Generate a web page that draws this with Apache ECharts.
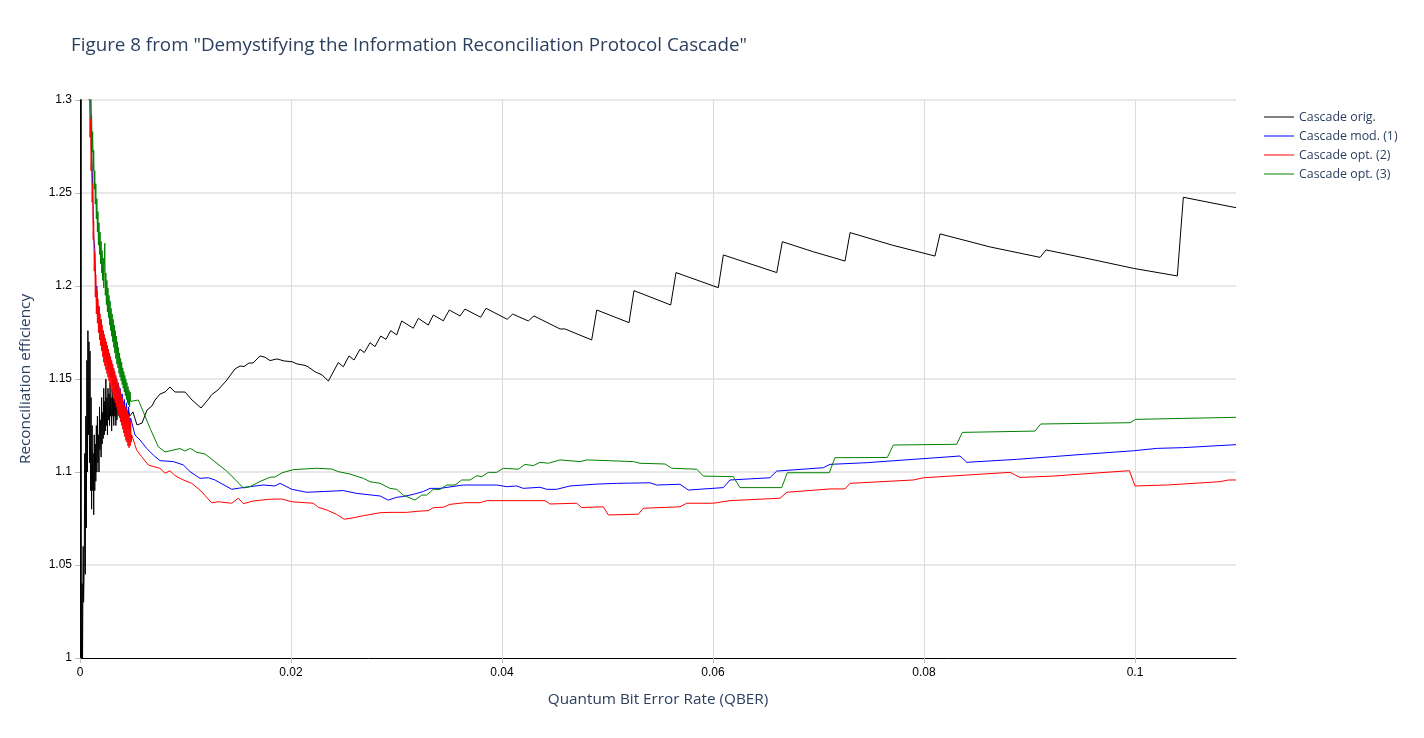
<!DOCTYPE html>
<html>
<head>
<meta charset="utf-8">
<script src="https://cdn.jsdelivr.net/npm/echarts@6/dist/echarts.min.js"></script>
<style>html,body{margin:0;padding:0;background:#fff;}#chart{width:1424px;height:738px;}</style>
</head>
<body>
<div id="chart"></div>
<script>
// ---- Data ----
const seriesNames = ["Cascade orig.", "Cascade mod. (1)", "Cascade opt. (2)", "Cascade opt. (3)"];
const xTicks = [0, 0.02, 0.04, 0.06, 0.08, 0.1];
const yTicks = [1, 1.05, 1.1, 1.15, 1.2, 1.25, 1.3];

// Cascade orig. (black)
const origX = [0.00005,0.0001,0.00013,0.0002,0.00024,0.0003,0.00034,0.0004,0.00045,0.0005,0.00055,0.0006,0.00065,0.0007,0.00075,0.0008,0.00085,0.0009,0.00095,0.001,0.00105,0.0011,0.00115,0.0012,0.00125,0.0013,0.00135,0.0014,0.00145,0.0015,0.00155,0.0016,0.00165,0.0017,0.00175,0.0018,0.00185,0.0019,0.00195,0.002,0.00205,0.0021,0.00215,0.0022,0.00225,0.0023,0.00235,0.0024,0.00245,0.0025,0.00255,0.0026,0.00265,0.0027,0.00275,0.0028,0.00285,0.0029,0.00295,0.003,0.00305,0.0031,0.00315,0.0032,0.00325,0.0033,0.00335,0.0034,0.00345,0.0035,0.0036,0.0037,0.0038,0.0039,0.004,0.0041,0.0042,0.0043,0.0044,0.0045,0.0046,0.0047,
  0.00502,0.0054,0.00588,0.00635,0.00682,0.00711,0.00758,0.00806,0.00853,0.009,0.00995,0.01062,0.01147,0.01204,0.01251,0.01308,0.01384,0.01469,0.01517,0.01555,0.01602,0.0164,0.01706,0.01754,0.01801,0.01867,0.01934,0.02009,0.02057,0.02133,0.02161,0.02227,0.02294,0.02354,0.02448,0.02496,0.0255,0.02597,0.02654,0.02695,0.02749,0.02796,0.0285,0.029,0.02945,0.03002,0.03049,0.03159,0.03207,0.03301,0.03349,0.03444,0.035,0.03602,0.03649,0.03798,0.03848,0.0405,0.04101,0.04249,0.04303,0.0455,0.04597,0.0485,0.04898,0.05204,0.05251,0.05599,0.05649,0.0605,0.06098,0.06604,0.06657,0.06951,0.07109,0.07251,0.07299,0.07697,0.08104,0.08152,0.08626,0.091,0.09156,0.09573,0.09984,0.10401,0.10458,0.10957];
const origY = [1.0,1.42,1.0,1.04,1.0,1.06,1.03,1.05,1.11,1.045,1.13,1.07,1.16,1.10,1.176,1.12,1.17,1.105,1.165,1.09,1.14,1.08,1.125,1.09,1.11,1.077,1.12,1.09,1.115,1.095,1.125,1.10,1.13,1.105,1.12,1.10,1.135,1.112,1.128,1.108,1.14,1.115,1.132,1.118,1.145,1.12,1.138,1.122,1.15,1.125,1.14,1.12,1.145,1.128,1.142,1.125,1.148,1.13,1.14,1.122,1.145,1.13,1.14,1.125,1.142,1.13,1.138,1.125,1.14,1.128,1.14,1.13,1.137,1.127,1.136,1.128,1.135,1.126,1.134,1.128,1.133,1.13,
  1.1323,1.1253,1.1263,1.1333,1.1355,1.1387,1.1419,1.143,1.1457,1.143,1.143,1.1387,1.1344,1.1382,1.1417,1.1441,1.1489,1.1554,1.157,1.1567,1.1586,1.1586,1.1624,1.1617,1.1599,1.1608,1.1597,1.1593,1.1581,1.1573,1.1566,1.1539,1.1522,1.1489,1.1588,1.1566,1.1624,1.1602,1.166,1.1642,1.1695,1.1674,1.1731,1.1713,1.176,1.1737,1.1812,1.1773,1.1826,1.179,1.1844,1.1813,1.1871,1.1839,1.1876,1.1832,1.188,1.1821,1.1849,1.1812,1.1839,1.1769,1.1769,1.171,1.1871,1.1803,1.1975,1.1898,1.2072,1.1991,1.2167,1.2072,1.2238,1.2184,1.2158,1.2134,1.2287,1.222,1.2161,1.228,1.221,1.2154,1.2194,1.2145,1.2095,1.2054,1.2477,1.2421];

// Cascade mod. (1) (blue)
const mod1X = [0.001,0.0011,0.0012,0.0013,0.0014,0.0015,0.0016,0.0017,0.0018,0.0019,0.002,0.0021,0.0022,0.0023,0.0024,0.0025,0.0026,0.0027,0.0028,0.0029,0.003,0.0031,0.0032,0.0033,0.0034,0.0035,0.0036,0.0037,0.0038,0.0039,0.004,0.0041,0.0042,0.0043,0.0044,0.0045,0.0046,0.0047,0.0048,
  0.00521,0.00569,0.00632,0.00695,0.00758,0.00884,0.00979,0.01043,0.01137,0.01216,0.0128,0.01438,0.01564,0.01737,0.01848,0.01896,0.02007,0.02149,0.02496,0.02623,0.02844,0.02922,0.03002,0.03064,0.03159,0.03254,0.03318,0.03412,0.03633,0.0395,0.04045,0.04139,0.04202,0.0436,0.04424,0.04519,0.04645,0.04898,0.05087,0.05403,0.05466,0.05687,0.05766,0.06098,0.06161,0.0654,0.06604,0.07045,0.07109,0.07457,0.08341,0.08405,0.08879,0.0951,0.09984,0.10206,0.10458,0.10957];
const mod1Y = [1.31,1.27,1.255,1.226,1.22,1.198,1.20,1.184,1.189,1.175,1.182,1.169,1.176,1.163,1.171,1.159,1.167,1.155,1.164,1.151,1.159,1.147,1.155,1.143,1.151,1.14,1.148,1.137,1.145,1.134,1.142,1.131,1.139,1.129,1.137,1.127,1.135,1.125,1.129,
  1.1199,1.1172,1.1127,1.1091,1.1061,1.1056,1.1038,1.1002,1.0966,1.0969,1.0957,1.0907,1.0918,1.093,1.0925,1.0939,1.0907,1.0891,1.09,1.0885,1.0871,1.0849,1.0864,1.0868,1.088,1.0895,1.0912,1.0912,1.093,1.093,1.0921,1.0925,1.0912,1.0918,1.0907,1.0907,1.0925,1.0935,1.0939,1.0942,1.093,1.0934,1.0903,1.0916,1.0957,1.0969,1.1005,1.1023,1.1041,1.105,1.1086,1.1052,1.1068,1.1095,1.1114,1.1127,1.1131,1.1147];

// Cascade opt. (2) (red)
const opt2X = [0.0008,0.00085,0.0009,0.00095,0.001,0.00105,0.0011,0.00115,0.0012,0.00125,0.0013,0.00135,0.0014,0.00145,0.0015,0.00155,0.0016,0.00165,0.0017,0.00175,0.0018,0.00185,0.0019,0.00195,0.002,0.00205,0.0021,0.00215,0.0022,0.00225,0.0023,0.00235,0.0024,0.00245,0.0025,0.00255,0.0026,0.00265,0.0027,0.00275,0.0028,0.00285,0.0029,0.00295,0.003,0.00305,0.0031,0.00315,0.0032,0.00325,0.0033,0.00335,0.0034,0.00345,0.0035,0.00355,0.0036,0.00365,0.0037,0.00375,0.0038,0.00385,0.0039,0.00395,0.004,0.00405,0.0041,0.00415,0.0042,0.00425,0.0043,0.00435,0.0044,0.00445,0.0045,0.00455,0.0046,0.00465,0.0047,0.00475,0.0048,0.00485,0.0049,
  0.00537,0.00585,0.00647,0.00695,0.00758,0.00806,0.00853,0.009,0.00979,0.01059,0.01137,0.01248,0.01311,0.01438,0.015,0.01548,0.01643,0.01785,0.01912,0.02007,0.02211,0.02259,0.02338,0.02433,0.02505,0.02591,0.02685,0.02844,0.02938,0.03097,0.03223,0.03301,0.03349,0.03444,0.03507,0.03649,0.03791,0.03855,0.04265,0.04408,0.04455,0.04708,0.04755,0.0496,0.05008,0.05292,0.05339,0.05687,0.05751,0.06003,0.06161,0.06635,0.06699,0.07109,0.07251,0.07299,0.07899,0.07993,0.08815,0.0891,0.09226,0.09668,0.09946,0.1,0.103,0.10806,0.10885,0.10957];
const opt2Y = [1.34,1.30,1.31,1.28,1.29,1.262,1.272,1.245,1.255,1.225,1.235,1.208,1.218,1.194,1.206,1.185,1.198,1.18,1.193,1.175,1.189,1.171,1.185,1.168,1.182,1.165,1.179,1.162,1.176,1.159,1.174,1.157,1.172,1.155,1.17,1.153,1.168,1.151,1.166,1.149,1.164,1.147,1.162,1.145,1.16,1.143,1.158,1.141,1.156,1.139,1.154,1.137,1.152,1.135,1.15,1.133,1.148,1.131,1.146,1.129,1.144,1.127,1.142,1.125,1.14,1.123,1.138,1.121,1.136,1.119,1.135,1.117,1.134,1.116,1.133,1.114,1.131,1.113,1.129,1.114,1.127,1.116,1.12,
  1.1118,1.1082,1.1038,1.1029,1.102,1.0993,1.1007,1.0981,1.0957,1.0939,1.0903,1.0835,1.084,1.0832,1.0859,1.083,1.0844,1.0853,1.0855,1.084,1.0832,1.081,1.0796,1.0772,1.0746,1.0754,1.0765,1.0781,1.0783,1.0783,1.079,1.0792,1.0808,1.0811,1.0826,1.0835,1.0835,1.0846,1.0846,1.0846,1.0828,1.0832,1.0809,1.0813,1.0769,1.0773,1.0805,1.0813,1.0832,1.0832,1.0846,1.0859,1.0891,1.0909,1.0909,1.0939,1.0957,1.0969,1.0998,1.0971,1.0978,1.0996,1.1007,1.0925,1.093,1.0948,1.0957,1.0957];

// Cascade opt. (3) (green)
const opt3X = [0.0009,0.00095,0.001,0.00105,0.0011,0.00115,0.0012,0.00125,0.0013,0.00135,0.0014,0.00145,0.0015,0.00155,0.0016,0.00165,0.0017,0.00175,0.0018,0.00185,0.0019,0.00195,0.002,0.00205,0.0021,0.00215,0.0022,0.00225,0.0023,0.00235,0.0024,0.00245,0.0025,0.00255,0.0026,0.00265,0.0027,0.00275,0.0028,0.00285,0.0029,0.00295,0.003,0.00305,0.0031,0.00315,0.0032,0.00325,0.0033,0.00335,0.0034,0.00345,0.0035,0.00355,0.0036,0.00365,0.0037,0.00375,0.0038,0.00385,0.0039,0.00395,0.004,0.00405,0.0041,0.00415,0.0042,0.00425,0.0043,0.00435,0.0044,0.00445,0.0045,0.00455,0.0046,0.00465,0.0047,0.00475,0.0048,
  0.00553,0.006,0.00664,0.00742,0.00806,0.00884,0.00948,0.00995,0.01047,0.01106,0.01185,0.0127,0.0139,0.01469,0.01548,0.01611,0.01706,0.01801,0.01848,0.01915,0.02028,0.02244,0.02386,0.02448,0.02559,0.02685,0.02749,0.02844,0.02938,0.03002,0.03064,0.03175,0.03239,0.03286,0.03349,0.03412,0.03476,0.03555,0.03618,0.03697,0.0376,0.03808,0.0387,0.0395,0.04012,0.04155,0.04218,0.04297,0.0436,0.04439,0.0455,0.0474,0.04803,0.05245,0.05308,0.05545,0.05609,0.05846,0.05908,0.06192,0.06256,0.06651,0.06704,0.07102,0.07156,0.07652,0.07709,0.0831,0.08363,0.09052,0.09106,0.09953,0.10007,0.10957];
const opt3Y = [1.33,1.31,1.305,1.29,1.292,1.272,1.283,1.262,1.273,1.252,1.262,1.244,1.255,1.236,1.247,1.229,1.24,1.222,1.234,1.217,1.229,1.212,1.224,1.207,1.219,1.203,1.215,1.199,1.211,1.223,1.195,1.207,1.19,1.203,1.186,1.199,1.183,1.195,1.179,1.192,1.176,1.188,1.173,1.185,1.17,1.182,1.167,1.179,1.164,1.176,1.161,1.173,1.158,1.17,1.156,1.167,1.153,1.164,1.151,1.161,1.149,1.159,1.147,1.156,1.145,1.154,1.143,1.152,1.141,1.15,1.139,1.148,1.137,1.146,1.136,1.144,1.135,1.143,1.138,
  1.1387,1.1324,1.1235,1.1136,1.1108,1.1118,1.1126,1.1113,1.1127,1.1106,1.1097,1.1059,1.1005,1.0961,1.0914,1.0921,1.0949,1.0972,1.0973,1.0996,1.1013,1.102,1.1016,1.1002,1.0989,1.0966,1.0948,1.0939,1.0912,1.0907,1.0876,1.0849,1.0876,1.0876,1.0907,1.0906,1.093,1.093,1.0957,1.0957,1.098,1.0975,1.0998,1.0998,1.102,1.1015,1.1041,1.1034,1.1052,1.1047,1.1065,1.1056,1.1065,1.1056,1.1047,1.1043,1.102,1.1015,1.0978,1.0975,1.0916,1.0916,1.0996,1.0996,1.1077,1.1078,1.1145,1.1149,1.1213,1.122,1.1258,1.1265,1.1283,1.1294];

const colors = ["#000000", "#0000ff", "#ff0000", "#008000"];

function zip(xs, ys) { return xs.map((x, i) => [x, ys[i]]); }

const chart = echarts.init(document.getElementById('chart'), null, {renderer: 'canvas'});
const textColor = '#2a3f5f';
const mkSeries = (name, xs, ys, color) => ({
  name: name, type: 'line', data: zip(xs, ys), symbol: 'none', showSymbol: false,
  lineStyle: {color: color, width: 1}, itemStyle: {color: color}, clip: true, animation: false
});

chart.setOption({
  animation: false,
  title: {
    text: 'Figure 8 from "Demystifying the Information Reconciliation Protocol Cascade"',
    left: 66, top: 31,
    textStyle: {fontFamily: 'Open Sans', fontSize: 18.8, fontWeight: 'normal', color: textColor}
  },
  legend: {
    orient: 'vertical', left: 1259, top: 106,
    itemWidth: 30, itemHeight: 12, itemGap: 7,
    icon: 'path://M0,0H30V1H0Z',
    textStyle: {fontFamily: 'Open Sans', fontSize: 12.4, color: textColor},
    data: seriesNames.map((n, i) => ({name: n, itemStyle: {color: colors[i]}}))
  },
  grid: {left: 80, right: 188, top: 100, bottom: 80, containLabel: false},
  xAxis: {
    type: 'value', min: 0, max: 0.10957, interval: 0.02,
    name: 'Quantum Bit Error Rate (QBER)', nameLocation: 'middle', nameGap: 34,
    nameTextStyle: {fontFamily: 'Open Sans', fontSize: 15.3, color: textColor},
    axisLine: {show: true, lineStyle: {color: '#000', width: 1}},
    axisTick: {show: true, length: 5, lineStyle: {color: '#bbb'}},
    axisLabel: {
      color: '#000', fontFamily: 'Liberation Sans, Arial', fontSize: 12, margin: 9, showMaxLabel: false,
      formatter: v => { const t = xTicks.find(tk => Math.abs(tk - v) < 1e-9); return t === undefined ? '' : String(t); }
    },
    splitLine: {show: true, showMinLine: false, showMaxLine: false, lineStyle: {color: '#dcdcdc', width: 1}}
  },
  yAxis: {
    type: 'value', min: 1, max: 1.3, interval: 0.05,
    name: 'Reconciliation efficiency', nameLocation: 'middle', nameGap: 47,
    nameTextStyle: {fontFamily: 'Open Sans', fontSize: 15.3, color: textColor},
    axisLine: {show: true, lineStyle: {color: '#000', width: 1}},
    axisTick: {show: true, length: 5, lineStyle: {color: '#bbb'}},
    axisLabel: {
      color: '#000', fontFamily: 'Liberation Sans, Arial', fontSize: 12, margin: 8,
      formatter: v => { const t = yTicks.find(tk => Math.abs(tk - v) < 1e-9); return t === undefined ? '' : String(t); }
    },
    splitLine: {show: true, showMinLine: false, lineStyle: {color: '#e8e8e8', width: 2}}
  },
  series: [
    mkSeries(seriesNames[0], origX, origY, colors[0]),
    mkSeries(seriesNames[1], mod1X, mod1Y, colors[1]),
    mkSeries(seriesNames[2], opt2X, opt2Y, colors[2]),
    mkSeries(seriesNames[3], opt3X, opt3Y, colors[3])
  ]
});
</script>
</body>
</html>
